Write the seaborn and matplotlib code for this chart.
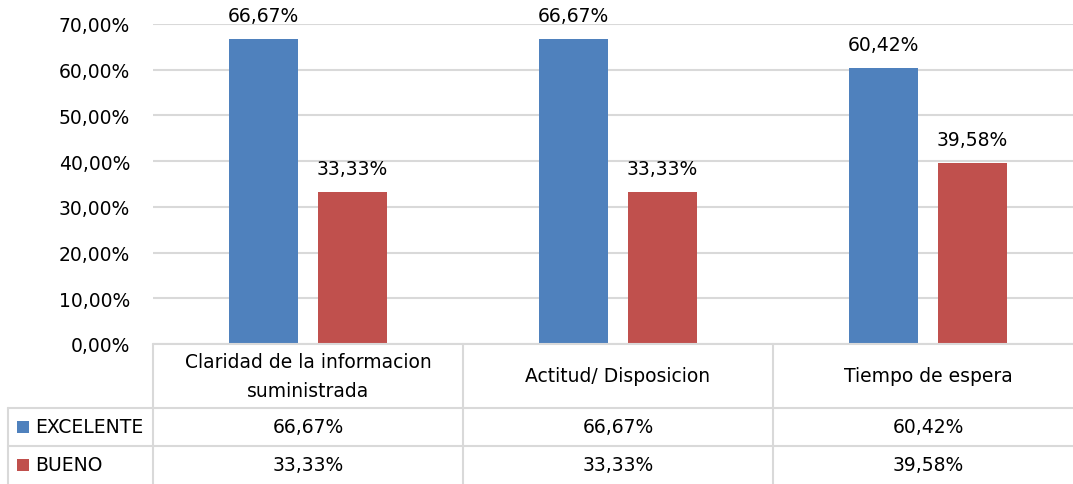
import pandas as pd
import matplotlib
matplotlib.use("Agg")
import matplotlib.pyplot as plt
import matplotlib.transforms as mtrans
from matplotlib.lines import Line2D
from matplotlib.patches import Rectangle
from matplotlib.ticker import FuncFormatter
import seaborn as sns

# 数据
categorias = ["Claridad de la informacion\nsuministrada", "Actitud/ Disposicion", "Tiempo de espera"]
excelente = [66.67, 66.67, 60.42]
bueno = [33.33, 33.33, 39.58]
series = ["EXCELENTE", "BUENO"]
colores = ["#4F81BD", "#C0504D"]

sns.set_theme(style="white")
plt.rcParams['font.family'] = ['DejaVu Sans']
FS = 13.5

df = pd.DataFrame({
    "categoria": categorias * 2,
    "serie": [series[0]] * 3 + [series[1]] * 3,
    "valor": excelente + bueno,
})

W, H = 1073, 485
fig = plt.figure(figsize=(W / 100, H / 100), dpi=100)

# 绘图区（右侧被裁掉，与原图一致）
ax_left, ax_right, ax_top, ax_bottom = 153, 1083, 25, 345
ax = fig.add_axes([ax_left / W, 1 - ax_bottom / H, (ax_right - ax_left) / W, (ax_bottom - ax_top) / H])

sns.barplot(data=df, x="categoria", y="valor", hue="serie", palette=colores,
            width=0.57, gap=0.22, ax=ax, legend=False, saturation=1, linewidth=0)

ax.set_ylim(0, 70)
ax.set_xlim(-0.5, 2.5)
ax.set_yticks(range(0, 71, 10))
ax.yaxis.set_major_formatter(FuncFormatter(lambda v, p: f"{v:.2f}%".replace(".", ",")))
ax.tick_params(axis="y", length=0, pad=16.5, labelsize=FS, colors="#000000")
ax.set_xticks([])
ax.set_xlabel("")
ax.set_ylabel("")
ax.grid(axis="y", color="#d9d9d9", linewidth=1.5)
ax.set_axisbelow(True)
for s in ax.spines.values():
    s.set_visible(False)

# 柱顶标签
for cont in ax.containers:
    labels = [f"{b.get_height():.2f}%".replace(".", ",") for b in cont]
    ax.bar_label(cont, labels=labels, padding=10, fontsize=FS, color="#000000")

# --- 数据表 ---
line_kw = dict(color="#d9d9d9", linewidth=1.5)
tr_x = mtrans.blended_transform_factory(ax.transData, fig.transFigure)

def fy(y):
    return 1 - y / H

def fx(x):
    return x / W

# 横线
fig.add_artist(Line2D([fx(ax_left), fx(W + 20)], [fy(345), fy(345)], transform=fig.transFigure, **line_kw))
for y in [409, 447]:
    fig.add_artist(Line2D([fx(8), fx(W + 20)], [fy(y), fy(y)], transform=fig.transFigure, **line_kw))
# 竖线
fig.add_artist(Line2D([fx(8), fx(8)], [fy(409), fy(H + 5)], transform=fig.transFigure, **line_kw))
for xb in [-0.5, 0.5, 1.5]:
    fig.add_artist(Line2D([xb, xb], [fy(345), fy(H + 5)], transform=tr_x, **line_kw))

# 分类名称
for i, cat in enumerate(categorias):
    fig.text(i, fy(377), cat, transform=tr_x, ha="center", va="center",
             fontsize=FS, linespacing=1.7, color="#000000")

# 数值行 + 图例色块
rows = [(series[0], excelente, colores[0], 428), (series[1], bueno, colores[1], 466)]
for name, vals, col, yc in rows:
    fig.add_artist(Rectangle((fx(17), fy(yc + 6)), 12 / W, 12 / H, transform=fig.transFigure,
                             facecolor=col, edgecolor="none"))
    fig.text(fx(35), fy(yc), name, ha="left", va="center", fontsize=FS, color="#000000")
    for i, v in enumerate(vals):
        fig.text(i, fy(yc), f"{v:.2f}%".replace(".", ","), transform=tr_x,
                 ha="center", va="center", fontsize=FS, color="#000000")

fig.savefig("out.png", dpi=100)
